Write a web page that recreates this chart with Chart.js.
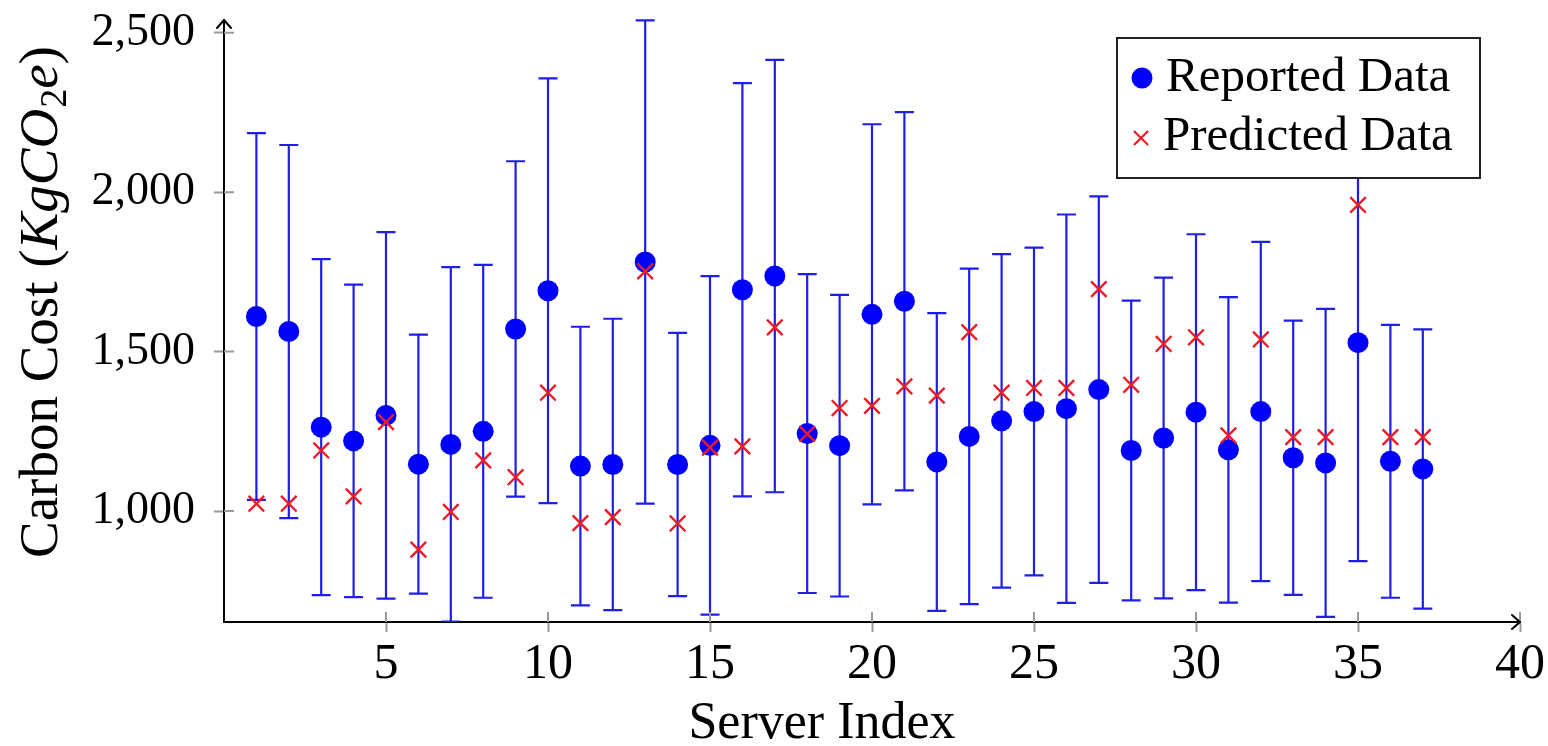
<!DOCTYPE html>
<html>
<head>
<meta charset="utf-8">
<script src="https://cdn.jsdelivr.net/npm/chart.js@4.4.1/dist/chart.umd.min.js"></script>
<style>
  html, body { margin: 0; padding: 0; background: #ffffff; }
  #wrap { width: 1548px; height: 746px; }
</style>
</head>
<body>
<div id="wrap"><canvas id="c" width="1548" height="746"></canvas></div>
<script>
// Server indices (x categories)
const serverIndex = [1, 2, 3, 4, 5, 6, 7, 8, 9, 10, 11, 12, 13, 14, 15, 16, 17, 18, 19, 20,
  21, 22, 23, 24, 25, 26, 27, 28, 29, 30, 31, 32, 33, 34, 35, 36, 37];

// Reported carbon cost (KgCO2e)
const reportedCost = [1610, 1563, 1263, 1220, 1300, 1147, 1209, 1250, 1571, 1691,
  1141, 1146, 1781, 1146, 1206, 1694, 1737, 1243, 1205, 1617,
  1658, 1154, 1234, 1283, 1312, 1321, 1381, 1190, 1229, 1310,
  1192, 1312, 1167, 1151, 1528, 1156, 1132];

// Symmetric uncertainty on the reported values (+/-)
const reportedError = [575, 585, 527, 490, 575, 406, 556, 522, 526, 666,
  437, 457, 758, 413, 531, 648, 678, 500, 473, 596,
  593, 467, 526, 523, 514, 609, 606, 470, 503, 558,
  479, 532, 430, 483, 685, 428, 438];

// Model predictions (KgCO2e)
const predictedCost = [1023, 1023, 1190, 1046, 1279, 879, 997, 1159, 1106, 1371,
  962, 981, 1752, 961, 1199, 1203, 1576, 1242, 1323, 1330,
  1391, 1362, 1561, 1371, 1386, 1386, 1696, 1396, 1524, 1545,
  1237, 1538, 1232, 1232, 1960, 1232, 1232];

// Axis ticks
const xTickValues = [5, 10, 15, 20, 25, 30, 35, 40];
const yTickValues = [1000, 1500, 2000, 2500];

const SERIF = "'Liberation Serif', 'Times New Roman', serif";
const BLUE = '#0000ff';
const BAR_BLUE = 'rgb(30,30,232)';
const RED = 'rgb(236,28,36)';
const TICK_GREY = '#9a9a9a';

// Vertical error bars with caps, drawn beneath the markers
const errorBars = {
  id: 'errorBars',
  beforeDatasetsDraw(chart) {
    const { ctx, chartArea, scales: { x, y } } = chart;
    ctx.save();
    ctx.beginPath();
    ctx.rect(chartArea.left, chartArea.top - 2, chartArea.right - chartArea.left, chartArea.bottom - chartArea.top + 2);
    ctx.clip();
    ctx.strokeStyle = BAR_BLUE;
    ctx.lineWidth = 2.2;
    const cap = 9.5;
    serverIndex.forEach((idx, i) => {
      const px = x.getPixelForValue(idx);
      const lo = y.getPixelForValue(reportedCost[i] - reportedError[i]);
      const hi = y.getPixelForValue(reportedCost[i] + reportedError[i]);
      ctx.beginPath();
      ctx.moveTo(px, lo); ctx.lineTo(px, hi);
      ctx.moveTo(px - cap, hi); ctx.lineTo(px + cap, hi);
      ctx.moveTo(px - cap, lo); ctx.lineTo(px + cap, lo);
      ctx.stroke();
    });
    ctx.restore();

    // inner halves of the tick marks
    ctx.save();
    ctx.strokeStyle = TICK_GREY;
    ctx.lineWidth = 2;
    ctx.beginPath();
    yTickValues.forEach(v => {
      const py = y.getPixelForValue(v);
      ctx.moveTo(chartArea.left, py); ctx.lineTo(chartArea.left + 10, py);
    });
    xTickValues.forEach(v => {
      const px = x.getPixelForValue(v);
      ctx.moveTo(px, chartArea.bottom); ctx.lineTo(px, chartArea.bottom - 10);
    });
    ctx.stroke();
    ctx.restore();
  }
};

// Arrow heads, axis titles and the boxed legend
const decorations = {
  id: 'decorations',
  afterDatasetsDraw(chart) {
    const { ctx, chartArea } = chart;
    const { left, right, top, bottom } = chartArea;

    ctx.save();
    ctx.strokeStyle = '#000';
    ctx.lineWidth = 2;
    ctx.lineCap = 'round';
    ctx.lineJoin = 'round';
    ctx.beginPath();
    ctx.moveTo(left - 7, top + 8); ctx.lineTo(left, top); ctx.lineTo(left + 7, top + 8);
    ctx.moveTo(right - 8, bottom - 7); ctx.lineTo(right, bottom); ctx.lineTo(right - 8, bottom + 7);
    ctx.stroke();
    ctx.restore();

    // x-axis title
    ctx.save();
    ctx.fillStyle = '#000';
    ctx.font = `52px ${SERIF}`;
    ctx.textAlign = 'center';
    ctx.textBaseline = 'alphabetic';
    ctx.fillText('Server Index', 822, 738);
    ctx.restore();

    // y-axis title with math-style unit
    ctx.save();
    ctx.translate(57, 558);
    ctx.rotate(-Math.PI / 2);
    ctx.fillStyle = '#000';
    ctx.textBaseline = 'alphabetic';
    ctx.textAlign = 'left';
    const parts = [
      { t: 'Carbon Cost (', f: `55px ${SERIF}`, dy: 0 },
      { t: 'KgCO', f: `italic 55px ${SERIF}`, dy: 0 },
      { t: '2', f: `38px ${SERIF}`, dy: 9 },
      { t: 'e', f: `italic 55px ${SERIF}`, dy: 0 },
      { t: ')', f: `55px ${SERIF}`, dy: 0 }
    ];
    let cx = 0;
    parts.forEach(p => {
      ctx.font = p.f;
      ctx.fillText(p.t, cx, p.dy);
      cx += ctx.measureText(p.t).width + (p.t === 'KgCO' ? 1 : 0);
    });
    ctx.restore();

    // legend
    ctx.save();
    const bx = 1117, by = 38, bw = 363, bh = 140;
    ctx.fillStyle = '#fff';
    ctx.fillRect(bx, by, bw, bh);
    ctx.strokeStyle = '#222';
    ctx.lineWidth = 2;
    ctx.strokeRect(bx, by, bw, bh);
    const ds = chart.data.datasets;
    ctx.fillStyle = ds[0].backgroundColor;
    ctx.strokeStyle = ds[0].borderColor;
    Chart.helpers.drawPoint(ctx, { pointStyle: ds[0].pointStyle, radius: 10.5, borderWidth: 0, rotation: 0 }, 1142, 78);
    ctx.fillStyle = ds[1].backgroundColor;
    ctx.strokeStyle = ds[1].borderColor;
    ctx.lineWidth = 2.2;
    Chart.helpers.drawPoint(ctx, { pointStyle: ds[1].pointStyle, radius: 10, borderWidth: 2.2, rotation: 0 }, 1141, 138);
    ctx.fillStyle = '#000';
    ctx.font = `49px ${SERIF}`;
    ctx.textAlign = 'left';
    ctx.textBaseline = 'alphabetic';
    ctx.fillText(ds[0].label, 1166, 91);
    ctx.fillText(ds[1].label, 1163, 150);
    ctx.restore();
  }
};

const ctx = document.getElementById('c').getContext('2d');
new Chart(ctx, {
  type: 'scatter',
  data: {
    datasets: [
      {
        label: 'Reported Data',
        data: serverIndex.map((s, i) => ({ x: s, y: reportedCost[i] })),
        pointStyle: 'circle',
        pointRadius: 10.5,
        pointBorderWidth: 0,
        backgroundColor: BLUE,
        borderColor: BLUE,
        order: 2
      },
      {
        label: 'Predicted Data',
        data: serverIndex.map((s, i) => ({ x: s, y: predictedCost[i] })),
        pointStyle: 'crossRot',
        pointRadius: 11,
        pointBorderWidth: 2.4,
        backgroundColor: RED,
        borderColor: RED,
        order: 1
      }
    ]
  },
  options: {
    responsive: false,
    animation: false,
    devicePixelRatio: 1,
    layout: { padding: { left: 0, top: 20, right: 28, bottom: 0 } },
    plugins: {
      legend: { display: false },
      tooltip: { enabled: false }
    },
    scales: {
      x: {
        type: 'linear',
        min: 0,
        max: 40,
        afterBuildTicks: scale => { scale.ticks = xTickValues.map(v => ({ value: v })); },
        afterFit: scale => {
          scale.height = 124;
          scale.paddingLeft = 0;
          scale.paddingRight = 0;
        },
        ticks: {
          color: '#000',
          font: { family: SERIF, size: 50, lineHeight: 1 },
          padding: 8,
          maxRotation: 0,
          autoSkip: false
        },
        grid: { drawOnChartArea: false, drawTicks: true, tickLength: 10, color: TICK_GREY, tickWidth: 2 },
        border: { display: true, color: '#000', width: 2 }
      },
      y: {
        type: 'linear',
        min: 652,
        max: 2540,
        afterBuildTicks: scale => { scale.ticks = yTickValues.map(v => ({ value: v })); },
        afterFit: scale => {
          scale.width = 224;
          scale.paddingTop = 0;
          scale.paddingBottom = 0;
        },
        ticks: {
          color: '#000',
          font: { family: SERIF, size: 46, lineHeight: 1 },
          padding: 19,
          callback: v => v.toLocaleString('en-US')
        },
        grid: { drawOnChartArea: false, drawTicks: true, tickLength: 10, color: TICK_GREY, tickWidth: 2 },
        border: { display: true, color: '#000', width: 2 }
      }
    }
  },
  plugins: [errorBars, decorations]
});
</script>
</body>
</html>
